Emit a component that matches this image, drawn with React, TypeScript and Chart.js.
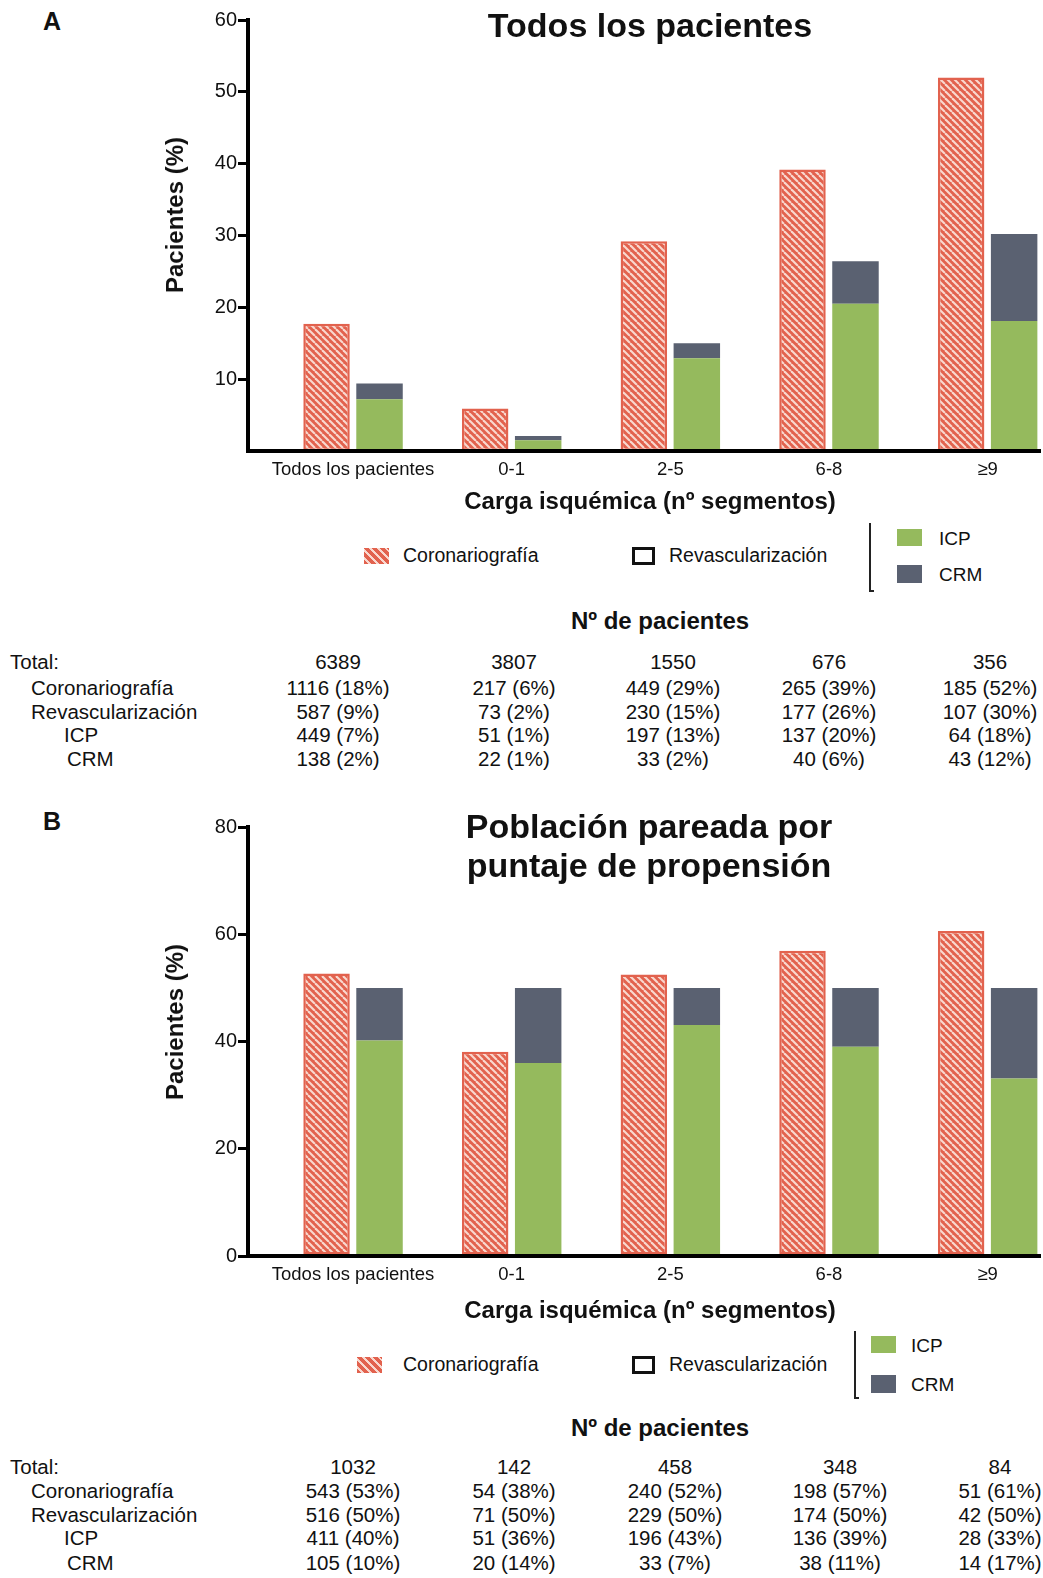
import React, { useEffect, useRef } from "react";
import { Chart, registerables } from "chart.js";
Chart.register(...registerables);

const categories = ["Todos los pacientes", "0-1", "2-5", "6-8", "≥9"];

// Panel A: Todos los pacientes (%)
const coroA = [17.7, 5.9, 29.2, 39.2, 52.0];
const icpA = [7.2, 1.5, 12.9, 20.5, 18.1];
const crmA = [2.2, 0.6, 2.1, 5.9, 12.1];
const yTicksA = [10, 20, 30, 40, 50, 60];

// Panel B: Población pareada (%)
const coroB = [52.7, 38.1, 52.5, 56.9, 60.6];
const icpB = [40.2, 36.0, 43.1, 39.0, 33.1];
const crmB = [9.8, 14.0, 6.9, 11.0, 16.9];
const yTicksB = [0, 20, 40, 60, 80];

const rowLabels = ["Total:", "Coronariografía", "Revascularización", "ICP", "CRM"];
const tableA = [
  ["6389", "3807", "1550", "676", "356"],
  ["1116 (18%)", "217 (6%)", "449 (29%)", "265 (39%)", "185 (52%)"],
  ["587 (9%)", "73 (2%)", "230 (15%)", "177 (26%)", "107 (30%)"],
  ["449 (7%)", "51 (1%)", "197 (13%)", "137 (20%)", "64 (18%)"],
  ["138 (2%)", "22 (1%)", "33 (2%)", "40 (6%)", "43 (12%)"],
];
const tableB = [
  ["1032", "142", "458", "348", "84"],
  ["543 (53%)", "54 (38%)", "240 (52%)", "198 (57%)", "51 (61%)"],
  ["516 (50%)", "71 (50%)", "229 (50%)", "174 (50%)", "42 (50%)"],
  ["411 (40%)", "51 (36%)", "196 (43%)", "136 (39%)", "28 (33%)"],
  ["105 (10%)", "20 (14%)", "33 (7%)", "38 (11%)", "14 (17%)"],
];

const FONT = "'Liberation Sans', Arial, Helvetica, sans-serif";
const RED = "#E2624E";
const STRIPE = "#F9D8CF";
const GREEN = "#95BA5D";
const DARK = "#5A6171";
const INK = "#111";

const X_MIN = -0.662;
const X_MAX = 4.33;

function makePattern(): CanvasPattern | string {
  const n = 7;
  const c = document.createElement("canvas");
  c.width = n;
  c.height = n;
  const g = c.getContext("2d");
  if (!g) return RED;
  g.fillStyle = RED;
  g.fillRect(0, 0, n, n);
  g.strokeStyle = STRIPE;
  g.lineWidth = 2.1;
  for (const o of [-n, 0, n]) {
    g.beginPath();
    g.moveTo(o, 0);
    g.lineTo(o + n, n);
    g.stroke();
  }
  return g.createPattern(c, "repeat") || RED;
}

type ChartProps = {
  coro: number[];
  icp: number[];
  crm: number[];
  yMax: number;
  yTicks: number[];
  top: number;
  height: number;
  padTop: number;
  padBottom: number;
};

function BarChart(p: ChartProps) {
  const ref = useRef<HTMLCanvasElement>(null);
  useEffect(() => {
    const canvas = ref.current;
    if (!canvas) return;
    const pattern = makePattern();
    const chart = new Chart(canvas, {
      type: "bar",
      data: {
        datasets: [
          {
            label: "Coronariografía",
            data: p.coro.map((v, i) => ({ x: i, y: v })),
            stack: "c",
            backgroundColor: pattern as any,
            borderColor: RED,
            borderWidth: 2.5,
            borderSkipped: false,
          },
          {
            label: "ICP",
            data: p.icp.map((v, i) => ({ x: i, y: v })),
            stack: "r",
            backgroundColor: GREEN,
            borderWidth: 0,
          },
          {
            label: "CRM",
            data: p.crm.map((v, i) => ({ x: i, y: v })),
            stack: "r",
            backgroundColor: DARK,
            borderWidth: 0,
          },
        ] as any,
      },
      options: {
        responsive: false,
        animation: false,
        devicePixelRatio: 1,
        datasets: { bar: { categoryPercentage: 0.668, barPercentage: 0.877 } },
        layout: { padding: { left: 0, right: 3, top: p.padTop, bottom: p.padBottom } },
        plugins: {
          legend: { display: false },
          tooltip: { enabled: false },
          title: { display: false },
        },
        scales: {
          x: {
            type: "linear",
            stacked: true,
            min: X_MIN,
            max: X_MAX,
            offset: false,
            afterBuildTicks: (s: any) => {
              s.ticks = categories.map((_, i) => ({ value: i }));
            },
            afterFit: (s: any) => {
              s.height = 30;
            },
            grid: { display: false, drawTicks: false },
            border: { display: true, color: "#000", width: 4, z: 1 },
            ticks: {
              callback: (v: any) => categories[Math.round(Number(v))] ?? "",
              font: { family: FONT, size: 18.5 },
              color: INK,
              padding: 8,
              maxRotation: 0,
              autoSkip: false,
            },
          },
          y: {
            type: "linear",
            stacked: true,
            min: 0,
            max: p.yMax,
            afterBuildTicks: (s: any) => {
              s.ticks = p.yTicks.map((v) => ({ value: v }));
            },
            afterFit: (s: any) => {
              s.width = 248;
            },
            grid: {
              display: true,
              drawOnChartArea: false,
              drawTicks: true,
              tickLength: 10,
              color: "#000",
              lineWidth: 3,
            },
            border: { display: true, color: "#000", width: 4, z: 1 },
            ticks: { font: { family: FONT, size: 20 }, color: INK, padding: 1 },
          },
        } as any,
      },
    });
    return () => chart.destroy();
  }, []);
  return (
    <canvas
      ref={ref}
      width={1043}
      height={p.height}
      style={{ position: "absolute", left: 0, top: p.top, width: 1043, height: p.height }}
    />
  );
}

type TProps = {
  x: number;
  y: number;
  size: number;
  bold?: boolean;
  align?: "left" | "center" | "right";
  children: React.ReactNode;
};

function T({ x, y, size, bold, align = "left", children }: TProps) {
  const tx = align === "center" ? "translateX(-50%)" : align === "right" ? "translateX(-100%)" : "none";
  return (
    <div
      style={{
        position: "absolute",
        left: x,
        top: y - 0.488 * size,
        fontSize: size,
        lineHeight: `${size}px`,
        fontWeight: bold ? 700 : 400,
        whiteSpace: "nowrap",
        transform: tx,
        color: INK,
      }}
    >
      {children}
    </div>
  );
}

function YTitle({ x, y }: { x: number; y: number }) {
  return (
    <div
      style={{
        position: "absolute",
        left: x,
        top: y,
        fontSize: 24,
        lineHeight: "24px",
        fontWeight: 700,
        whiteSpace: "nowrap",
        color: INK,
        transform: "translate(-50%, -50%) rotate(-90deg)",
      }}
    >
      Pacientes (%)
    </div>
  );
}

type LegendProps = {
  y: number;
  hatchX: number;
  bracketX: number;
  bracketTop: number;
  bracketBottom: number;
  sqX: number;
  icpY: number;
  crmY: number;
  textX: number;
};

function Legend(l: LegendProps) {
  return (
    <>
      <div
        style={{
          position: "absolute",
          left: l.hatchX,
          top: l.y - 8,
          width: 25,
          height: 16,
          background: `repeating-linear-gradient(45deg, ${RED} 0px, ${RED} 3.5px, ${STRIPE} 3.5px, ${STRIPE} 5.5px)`,
        }}
      />
      <T x={403} y={l.y} size={19.5}>Coronariografía</T>
      <div
        style={{
          position: "absolute",
          left: 632,
          top: l.y - 9,
          width: 17,
          height: 12,
          border: "3px solid #111",
        }}
      />
      <T x={669} y={l.y} size={19.5}>Revascularización</T>
      <div style={{ position: "absolute", left: l.bracketX, top: l.bracketTop, width: 2, height: l.bracketBottom - l.bracketTop, background: "#222" }} />
      <div style={{ position: "absolute", left: l.bracketX, top: l.bracketBottom - 2, width: 5, height: 2, background: "#222" }} />
      <div style={{ position: "absolute", left: l.sqX, top: l.icpY - 9, width: 25, height: 17, background: GREEN }} />
      <T x={l.textX} y={l.icpY} size={19}>ICP</T>
      <div style={{ position: "absolute", left: l.sqX, top: l.crmY - 9, width: 25, height: 18, background: DARK }} />
      <T x={l.textX} y={l.crmY} size={19}>CRM</T>
    </>
  );
}

function Table({ rows, rowY, colX }: { rows: string[][]; rowY: number[]; colX: number[] }) {
  const labelX = [10, 31, 31, 64, 67];
  return (
    <>
      {rowLabels.map((lab, r) => (
        <T key={"l" + r} x={labelX[r]} y={rowY[r]} size={20.5}>
          {lab}
        </T>
      ))}
      {rows.map((row, r) =>
        row.map((cell, c) => (
          <T key={r + "-" + c} x={colX[c]} y={rowY[r]} size={20.5} align="center">
            {cell}
          </T>
        ))
      )}
    </>
  );
}

export default function App() {
  return (
    <div
      style={{
        position: "absolute",
        left: 0,
        top: 0,
        width: 1043,
        height: 1578,
        background: "#fff",
        fontFamily: FONT,
        overflow: "hidden",
      }}
    >
      {/* Panel A */}
      <T x={52} y={21} size={25} bold align="center">A</T>
      <BarChart coro={coroA} icp={icpA} crm={crmA} yMax={60} yTicks={yTicksA} top={0} height={500} padTop={20} padBottom={19} />
      <T x={650} y={25} size={34} bold align="center">Todos los pacientes</T>
      <YTitle x={175} y={215} />
      <T x={650} y={501} size={24} bold align="center">Carga isquémica (nº segmentos)</T>
      <Legend y={556} hatchX={364} bracketX={869} bracketTop={523} bracketBottom={592} sqX={897} icpY={538} crmY={574} textX={939} />
      <T x={660} y={621} size={24} bold align="center">Nº de pacientes</T>
      <Table rows={tableA} rowY={[662, 688, 712, 735, 759]} colX={[338, 514, 673, 829, 990]} />

      {/* Panel B */}
      <T x={52} y={821} size={25} bold align="center">B</T>
      <BarChart coro={coroB} icp={icpB} crm={crmB} yMax={80} yTicks={yTicksB} top={780} height={530} padTop={47} padBottom={24} />
      <T x={649} y={826} size={34} bold align="center">Población pareada por</T>
      <T x={649} y={865} size={34} bold align="center">puntaje de propensión</T>
      <YTitle x={175} y={1022} />
      <T x={650} y={1310} size={24} bold align="center">Carga isquémica (nº segmentos)</T>
      <Legend y={1365} hatchX={357} bracketX={854} bracketTop={1331} bracketBottom={1399} sqX={871} icpY={1345} crmY={1384} textX={911} />
      <T x={660} y={1428} size={24} bold align="center">Nº de pacientes</T>
      <Table rows={tableB} rowY={[1467, 1491, 1515, 1538, 1563]} colX={[353, 514, 675, 840, 1000]} />
    </div>
  );
}
